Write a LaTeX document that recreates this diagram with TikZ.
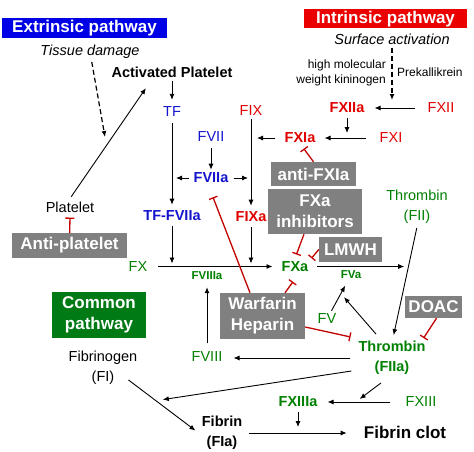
\documentclass[tikz,border=0pt]{standalone}
\usepackage{fontspec}
\setmainfont{Liberation Sans}
\usetikzlibrary{arrows.meta}

\definecolor{extblue}{RGB}{0,0,230}
\definecolor{intred}{RGB}{235,0,0}
\definecolor{fblue}{RGB}{20,20,205}
\definecolor{fred}{RGB}{225,0,0}
\definecolor{fgreen}{RGB}{0,128,0}
\definecolor{boxgreen}{RGB}{0,122,20}
\definecolor{boxgray}{RGB}{128,128,128}
\definecolor{inhred}{RGB}{195,0,0}

\begin{document}
\begin{tikzpicture}[
        x=1pt, y=-1pt,
        >={Latex[length=6pt,width=5pt]},
        factor/.style={inner sep=3pt, align=center, font=\fontsize{14.5}{20}\selectfont},
        activefactor/.style={factor, font=\fontsize{14.5}{20}\selectfont\bfseries},
        minortext/.style={factor, font=\fontsize{12}{15}\selectfont},
        cofactor/.style={factor, font=\fontsize{11.5}{14}\selectfont\bfseries},
        trigger/.style={factor, font=\fontsize{14.5}{20}\selectfont\itshape},
        drugbox/.style={fill=boxgray, text=white, inner sep=0pt, align=center, font=\fontsize{17}{21}\selectfont\bfseries},
        pathbox/.style={drugbox},
        arr/.style={->, line width=0.9pt},
        trigger_arr/.style={arr, line width=1.2pt, dash pattern=on 5pt off 3pt},
        inhibit/.style={draw=inhred, line width=1.3pt, -{Bar[width=9pt]}}
    ]
        \useasboundingbox (0,0) rectangle (474,452);

        % Pathway headers
        \node[pathbox, fill=extblue, minimum width=165pt, minimum height=20pt] (extrinsic) at (84.5,28) {Extrinsic pathway};
        \node[pathbox, fill=intred, minimum width=163pt, minimum height=19pt] (intrinsic) at (385.5,19) {Intrinsic pathway};
        \node[pathbox, fill=boxgreen, minimum width=94pt, minimum height=46pt] (common) at (99,315) {Common\\pathway};

        % Triggers
        \node[trigger] (tissue) at (90,52) {Tissue damage};
        \node[trigger] (surface) at (392,39) {Surface activation};
        \node[activefactor] (act_platelet) at (172,72) {Activated Platelet};
        \node[minortext, align=right, anchor=east] (hmwk) at (389,73) {high molecular\\weight kininogen};
        \node[minortext, anchor=west] (prekallikrein) at (394,72) {Prekallikrein};
        \coordinate (tissue_end) at (105,137);

        % Extrinsic factors
        \node[factor, text=fblue] (tf) at (172,112) {TF};
        \node[factor, text=fblue] (fvii) at (211,137) {FVII};
        \node[activefactor, text=fblue] (fviia) at (211,178) {FVIIa};
        \node[activefactor, text=fblue] (tf_fviia) at (172,216) {TF-FVIIa};

        % Intrinsic factors
        \node[factor, text=fred] (fix) at (251,111) {FIX};
        \node[activefactor, text=fred] (fxiia) at (347,108) {FXIIa};
        \node[factor, text=fred] (fxii) at (441,108) {FXII};
        \node[activefactor, text=fred] (fxia) at (300,138) {FXIa};
        \node[factor, text=fred] (fxi) at (391,138) {FXI};
        \node[activefactor, text=fred] (fixa) at (251,217) {FIXa};

        % Common factors
        \node[factor, text=fgreen] (fx) at (138,266.5) {FX};
        \node[activefactor, text=fgreen] (fxa) at (295,266.5) {FXa};
        \node[cofactor, text=fgreen] (fviiia) at (207,276) {FVIIIa};
        \node[cofactor, text=fgreen] (fva) at (351,275) {FVa};
        \node[factor, text=fgreen] (fv) at (327,319) {FV};
        \node[factor, text=fgreen] (fviii) at (207,356.5) {FVIII};
        \node[factor, text=fgreen] (thrombin) at (417,207) {Thrombin\\(FII)};
        \node[activefactor, text=fgreen] (thrombin_a) at (392,358) {Thrombin\\(FIIa)};
        \node[activefactor, text=fgreen] (fxiiia) at (298,402) {FXIIIa};
        \node[factor, text=fgreen] (fxiii) at (421,402) {FXIII};
        \node[factor] (fibrinogen) at (103,368) {Fibrinogen\\(FI)};
        \node[activefactor] (fibrin) at (222,433) {Fibrin\\(FIa)};
        \node[factor, font=\fontsize{17}{21}\selectfont\bfseries] (clot) at (405,432) {Fibrin clot};
        \node[factor] (platelet) at (70,207) {Platelet};

        % Drugs
        \node[drugbox, minimum width=115pt, minimum height=25pt] (anti_platelet) at (69.5,245.5) {Anti-platelet};
        \node[drugbox, minimum width=85pt, minimum height=24pt] (anti_fxia) at (313.5,174) {anti-FXIa};
        \node[drugbox, minimum width=94pt, minimum height=45pt] (fxa_inhib) at (315,211.5) {FXa\\inhibitors};
        \node[drugbox, minimum width=63pt, minimum height=25pt] (lmwh) at (350.5,249.5) {LMWH};
        \node[drugbox, minimum width=85pt, minimum height=46pt] (warfarin) at (262.5,316) {Warfarin\\Heparin};
        \node[drugbox, minimum width=57pt, minimum height=22pt] (doac) at (433.5,307) {DOAC};

        % Activation arrows
        \draw[trigger_arr] (tissue) -- (tissue_end);
        \draw[trigger_arr, shorten >=8pt] (surface) -- (surface |- fxii);
        \draw[arr, shorten <=2pt, shorten >=2pt] (platelet.north) -- ([xshift=-25pt,yshift=-6pt]act_platelet.south);
        \draw[arr, shorten >=4pt] (act_platelet) -- (tf);
        \draw[arr, shorten <=3pt, shorten >=3pt] (tf) -- (tf_fviia);
        \draw[arr, shorten <=3pt] (fvii) -- (fviia);
        \draw[arr, shorten <=1pt, shorten >=4pt] (fviia.west) -- (fviia -| tf);
        \draw[arr, shorten <=2pt, shorten >=3pt] (fviia.east) -- (fviia -| fix);
        \draw[arr, shorten >=3pt] (fix) -- (fixa);
        \draw[arr, shorten <=2pt, shorten >=3pt] (fixa) -- (fixa |- fxa);
        \draw[arr, shorten <=2pt, shorten >=3pt] (tf_fviia) -- (tf_fviia |- fxa);
        \draw[arr, shorten <=8pt, shorten >=6pt] (fx) -- (fxa);
        \draw[arr, shorten <=2pt, shorten >=5pt] (fxiia.south) -- (fxiia |- fxi);
        \draw[arr, shorten <=10pt, shorten >=7pt] (fxii) -- (fxiia);
        \draw[arr, shorten <=11pt, shorten >=6pt] (fxi) -- (fxia);
        \draw[arr, shorten <=6pt, shorten >=6pt] (fxia) -- (fxia -| fix);
        \draw[arr, shorten <=1pt, shorten >=3pt] (thrombin.south) -- coordinate[pos=0.365] (fii_mid) ([xshift=1pt]thrombin_a.north);
        \draw[arr, shorten <=6pt, shorten >=4pt] (fxa) -- (fxa -| fii_mid);
        \draw[arr, shorten >=4pt] (fv) -- (fva);
        \draw[arr] ([xshift=-16pt,yshift=4pt]thrombin_a.north) -- ([xshift=-7pt,yshift=-15pt]fva.south);
        \draw[arr, shorten <=5pt, shorten >=8pt] (thrombin_a.west) -- (thrombin_a.west -| fviii.east);
        \draw[arr, shorten <=5pt, shorten >=4pt] (fviii) -- (fviiia);
        \draw[arr, shorten >=4pt] ([xshift=-12pt,yshift=8pt]fibrinogen.south east) -- coordinate[pos=0.39] (fg_mid) (fibrin.west);
        \draw[arr, shorten >=7pt] ([xshift=-4pt,yshift=-13pt]thrombin_a.west) -- (fg_mid);
        \draw[arr, shorten <=4pt, shorten >=14pt] (fibrin) -- (fibrin -| clot.west);
        \draw[arr, shorten <=12pt, shorten >=7pt] (fxiii) -- coordinate[pos=0.571] (fxiii_mid) (fxiiia);
        \draw[arr, shorten >=5pt] ([xshift=-11pt,yshift=-5pt]thrombin_a.south) -- (fxiii_mid);
        \draw[arr, shorten <=2pt, shorten >=5pt] (fxiiia) -- (fxiiia |- clot);

        % Inhibition bars
        \draw[inhibit, shorten >=2pt] (anti_platelet) -- (platelet.south);
        \draw[inhibit, shorten >=3pt] (anti_fxia.north) -- ([xshift=2pt]fxia.south);
        \draw[inhibit, shorten >=4pt] ([xshift=-11pt]fxa_inhib.south) -- (fxa.north);
        \draw[inhibit] (lmwh.west) -- (fxa.north east);
        \draw[inhibit] ([xshift=-12.5pt]warfarin.north) -- ([xshift=2pt,yshift=-11pt]fviia.south);
        \draw[inhibit] ([xshift=22.5pt]warfarin.north) -- ([xshift=-2pt,yshift=-7pt]fxa.south);
        \draw[inhibit, shorten >=5pt] ([yshift=-11pt]warfarin.east) -- (thrombin_a.north west);
        \draw[inhibit] ([xshift=3pt]doac.south) -- ([xshift=-5pt]thrombin_a.north east);

    \end{tikzpicture}
\end{document}
